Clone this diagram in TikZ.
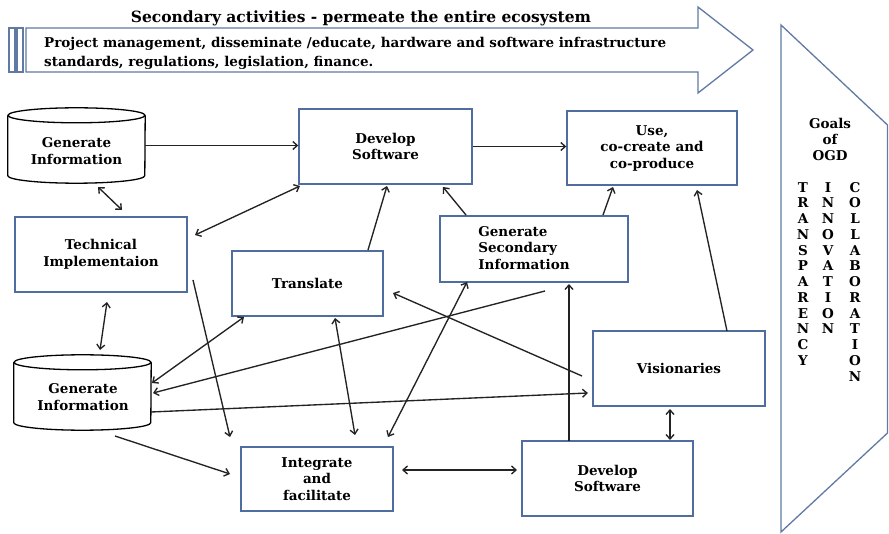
\documentclass[tikz,border=0pt]{standalone}
\usepackage{fontspec}
\setmainfont{DejaVu Serif}
\usetikzlibrary{arrows.meta,calc}
\definecolor{boxblue}{RGB}{79,109,158}
\definecolor{arrblue}{RGB}{96,122,164}
\definecolor{lnk}{RGB}{35,35,35}
\begin{document}
\begin{tikzpicture}[x=1pt,y=-1pt,
  txt/.style={font=\bfseries\fontsize{13.5}{16.5}\selectfont, align=center, inner sep=0pt, text=black},
  bx/.style 2 args={draw=boxblue, line width=1.4pt, rectangle, inner sep=0pt,
     minimum width=#1, minimum height=#2, font=\bfseries\fontsize{13.5}{16.5}\selectfont, align=center},
  cylbody/.style={rectangle, inner sep=0pt, minimum width=137pt, minimum height=75pt},
  cylline/.style={draw=black, line width=1.3pt},
  con/.style={draw=lnk, line width=1.35pt, -{Straight Barb[length=4.5pt,width=8pt]}},
  bicon/.style={draw=lnk, line width=1.35pt, {Straight Barb[length=4.5pt,width=8pt]}-{Straight Barb[length=4.5pt,width=8pt]}},
  shp/.style={draw=arrblue, line width=1.3pt},
  col/.style={font=\bfseries\fontsize{13.5}{15.75}\selectfont, align=center, inner sep=0pt, anchor=north}]
\useasboundingbox (0,0) rectangle (889,534);
\fill[white] (0,0) rectangle (889,534);

% ---- top striped arrow
\draw[shp] (9,28) rectangle (15,72);
\draw[shp] (17,28) rectangle (23,72);
\draw[shp] (26,28) -- (698,28) -- (698,7) -- (753,50) -- (698,93) -- (698,72) -- (26,72) -- cycle;
\node[font=\bfseries\fontsize{15.5}{17}\selectfont, inner sep=0pt] (title) at (361,18) {Secondary activities - permeate the entire ecosystem};
\node[font=\bfseries\fontsize{13.5}{16}\selectfont, inner sep=0pt, anchor=base west] (l1) at (44,48) {Project management, disseminate /educate, hardware and software infrastructure};
\node[font=\bfseries\fontsize{13.5}{16}\selectfont, inner sep=0pt, anchor=base west] (l2) at (44,67) {standards, regulations, legislation, finance.};

% ---- goals pentagon
\draw[shp] (781,25) -- (887.5,125) -- (887.5,433) -- (781,532) -- cycle;
\node[txt, anchor=north, font=\bfseries\fontsize{13.5}{16}\selectfont] (goals) at (830,118) {Goals\\of\\OGD};
\node[col] (transp) at (803,182) {T\\R\\A\\N\\S\\P\\A\\R\\E\\N\\C\\Y};
\node[col] (innov) at (828,182) {I\\N\\N\\O\\V\\A\\T\\I\\O\\N};
\node[col] (collab) at (855,182) {C\\O\\L\\L\\A\\B\\O\\R\\A\\T\\I\\O\\N};

% ---- boxes
\node[bx={173pt}{75pt}] (dev1) at (385.5,146.5) {Develop\\Software};
\node[bx={170pt}{74pt}] (use) at (652,148) {Use,\\co-create and\\co-produce};
\node[bx={172pt}{75pt}] (tech) at (101,254.5) {Technical\\Implementaion};
\node[bx={151pt}{65pt}] (trans) at (307.5,283.5) {Translate};
\node[bx={188pt}{66pt}] (gensec) at (534,249) {};
\node[txt, align=left] (gensect) at (524,248) {Generate\\Secondary\\Information};
\node[bx={172pt}{75pt}] (vis) at (679,368.5) {Visionaries};
\node[bx={171pt}{75pt}] (dev2) at (607.5,478.5) {Develop\\Software};
\node[bx={152pt}{64pt}] (integ) at (317,479) {Integrate\\and\\facilitate};

% ---- cylinders
\node[cylbody] (cylA) at (76.5,145.5) {};
\draw[cylline] ($(cylA.north west)+(0,7.5)$) -- ($(cylA.south west)+(0,-7.5)$)
   arc[start angle=180, end angle=360, x radius=68.5pt, y radius=7.5pt]
   -- ($(cylA.north east)+(0,7.5)$);
\draw[cylline] ($(cylA.north)+(0,7.5)$) ellipse [x radius=68.5pt, y radius=7.5pt];
\node[txt] (cylAt) at (76.5,151) {Generate\\Information};

\node[cylbody] (cylB) at (82.5,392.5) {};
\draw[cylline] ($(cylB.north west)+(0,7.5)$) -- ($(cylB.south west)+(0,-7.5)$)
   arc[start angle=180, end angle=360, x radius=68.5pt, y radius=7.5pt]
   -- ($(cylB.north east)+(0,7.5)$);
\draw[cylline] ($(cylB.north)+(0,7.5)$) ellipse [x radius=68.5pt, y radius=7.5pt];
\node[txt] (cylBt) at (83,397) {Generate\\Information};

% ---- connectors
\draw[con] (cylA.east) -- (cylA.east -| dev1.west);
\draw[bicon] ($(cylA)+(21.5,41.5)$) -- ($(tech)+(21,-44.5)$);
\draw[bicon] ($(tech)+(94,-19.5)$) -- ($(dev1)+(-85.5,39.5)$);
\draw[con] (dev1.east) -- (dev1.east -| use.west);
\draw[con] ($(trans)+(60.5,-33.5)$) -- ($(dev1)+(1.5,39.5)$);
\draw[con] ($(gensec)+(-68,-34)$) -- ($(dev1)+(57.5,40.5)$);
\draw[con] ($(gensec)+(69,-34)$) -- ($(use)+(-39,39)$);
\draw[con] ($(vis)+(48,-37.5)$) -- ($(use)+(45,42)$);
\draw[con] ($(tech)+(92,25.5)$) -- ($(integ)+(-87,-42)$);
\draw[bicon] ($(cylB)+(17.5,-42.5)$) -- ($(tech)+(6,47.5)$);
\draw[bicon] ($(cylB)+(69.5,-9.5)$) -- ($(trans)+(-63.5,33.5)$);
\draw[con] ($(gensec)+(11,42)$) -- ($(cylB)+(70.5,0.5)$);
\draw[con] ($(cylB)+(68.5,19.5)$) -- ($(vis)+(-91,24.5)$);
\draw[con] ($(cylB)+(32.5,43.5)$) -- ($(integ)+(-87,-5)$);
\draw[con] ($(vis)+(-97,7.5)$) -- ($(trans)+(85.5,9.5)$);
\draw[bicon] ($(trans)+(27.5,34.5)$) -- ($(integ)+(38,-44)$);
\draw[bicon] ($(gensec)+(-67,33)$) -- ($(integ)+(71,-42)$);
\draw[con] ($(dev2)+(-38.5,-37.5)$) -- ($(gensec)+(35,35)$);
\draw[bicon] ($(integ)+(85,-9)$) -- ($(dev2)+(-90.5,-8.5)$);
\draw[bicon] ($(vis)+(-9,40.5)$) -- ($(dev2)+(62.5,-38.5)$);
\end{tikzpicture}
\end{document}
